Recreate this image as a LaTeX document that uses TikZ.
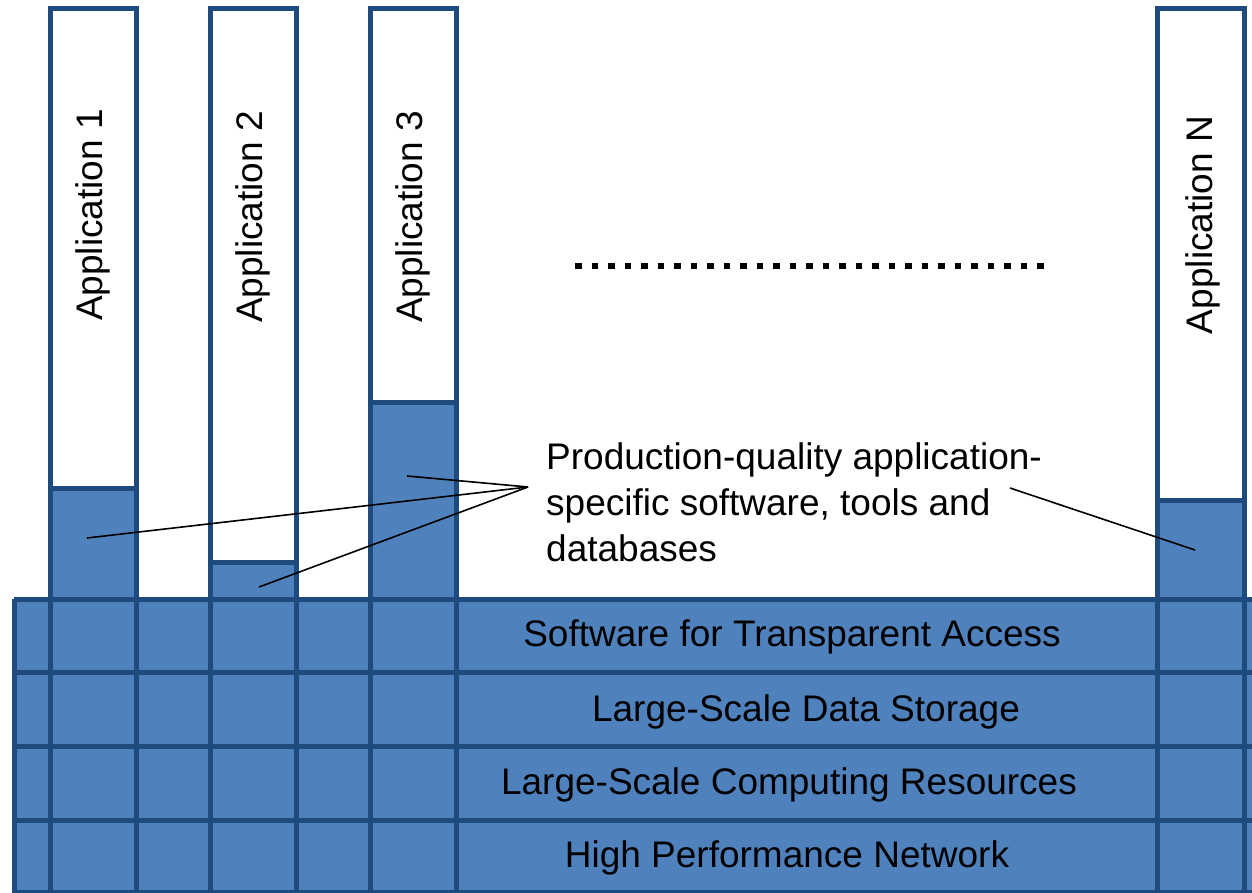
\documentclass[tikz,border=0pt]{standalone}
\usepackage{fontspec}
\setmainfont{Liberation Sans}
\definecolor{boxfill}{HTML}{4F81BD}
\definecolor{boxline}{HTML}{1F4A7E}
\begin{document}
\begin{tikzpicture}[x=1pt,y=-1pt,
  grid/.style={draw=boxline,line width=5pt},
  lbl/.style={font=\fontsize{37}{46}\selectfont,inner sep=0pt},
  conn/.style={draw=black,line width=1.6pt},
  dots/.style={draw=black,line width=6.5pt,dash pattern=on 6.5pt off 10pt}]
\useasboundingbox (0,0) rectangle (1252,893);
\clip (0,0) rectangle (1252,893);
% base layers
\fill[boxfill] (14,599) rectangle (1270,910);
% columns: white tops and blue parts
\foreach \xa/\xb/\ft in {50.5/136.5/488, 210.5/296.5/562, 370.5/456.5/402, 1157/1244/500.5}{
  \fill[white] (\xa,8.5) rectangle (\xb,\ft);
  \fill[boxfill] (\xa,\ft) rectangle (\xb,599);
  \draw[grid] (\xa,\ft) -- (\xb,\ft);
  \draw[grid] (\xa,892) -- (\xa,8.5) -- (\xb,8.5) -- (\xb,892);
}
% grid lines of the layers
\foreach \y in {599,672.5,746.5,820,892}{
  \draw[grid] (14,\y) -- (1270,\y);
}
\draw[grid] (14,599) -- (14,910);
% application labels
\node[lbl,rotate=90] (a1) at (93,215) {Application 1};
\node[lbl,rotate=90] (a2) at (253,217) {Application 2};
\node[lbl,rotate=90] (a3) at (413,217) {Application 3};
\node[lbl,rotate=90] (aN) at (1203,225) {Application N};
% dotted ellipsis
\coordinate (d1) at (575,266);
\coordinate (d2) at (1045,266);
\draw[dots] (d1) -- (d2);
% layer labels
\node[lbl] (l1) at (792,637) {Software for Transparent Access};
\node[lbl] (l2) at (806,712) {Large-Scale Data Storage};
\node[lbl] (l3) at (789,785) {Large-Scale Computing Resources};
\node[lbl] (l4) at (787,858) {High Performance Network};
% callout label
\node[lbl,anchor=north west,align=left] (cl) at (546,442) {Production-quality application-\\specific software, tools and\\databases};
% connectors
\coordinate (cv) at (528,487);
\coordinate (p1) at (87,538);
\coordinate (p2) at (259,587);
\coordinate (p3) at (407,476);
\coordinate (pN) at (1195,550);
\coordinate (qN) at (1010,488);
\draw[conn] (p1) -- (cv);
\draw[conn] (p2) -- (cv);
\draw[conn] (p3) -- (cv);
\draw[conn] (qN) -- (pN);
\end{tikzpicture}
\end{document}
